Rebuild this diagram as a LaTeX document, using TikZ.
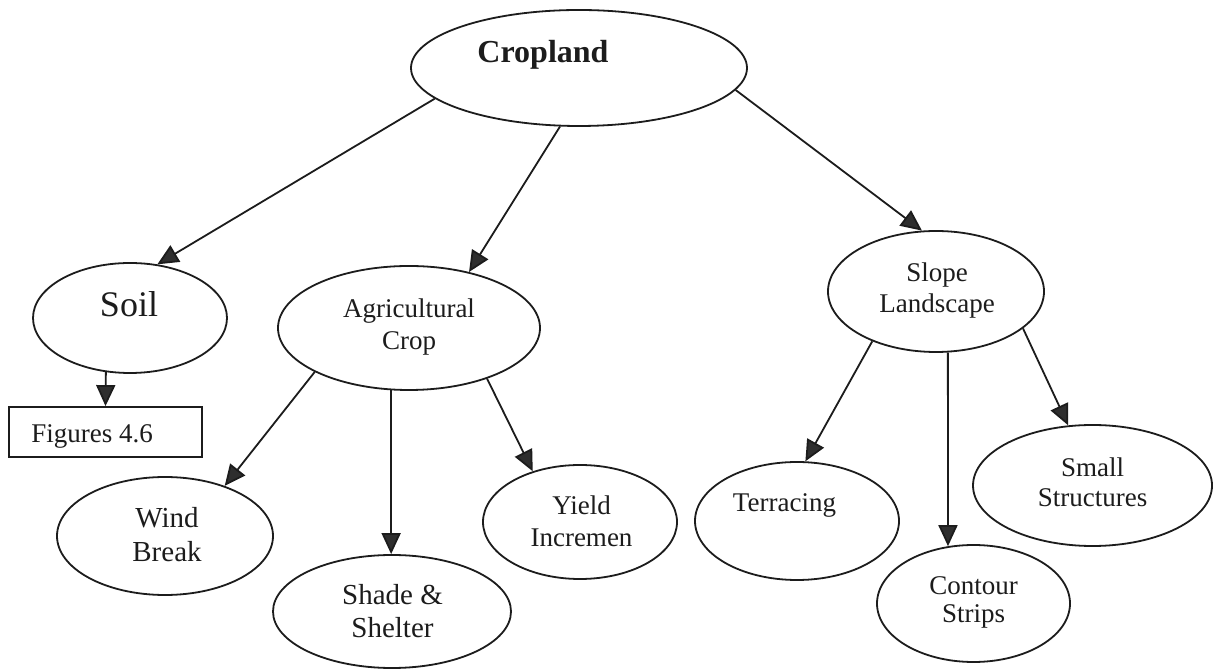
\documentclass[tikz,border=0pt]{standalone}
\usepackage{fontspec}
\setmainfont{Liberation Serif}
\usetikzlibrary{shapes.geometric,arrows.meta}
\definecolor{ink}{HTML}{1C1C1C}
\definecolor{tipfill}{HTML}{2E2E2E}
% two centred lines whose baseline is the first line
\newcommand\twoline[2]{\begin{tabular}[t]{@{}c@{}}#1\\#2\end{tabular}}
\begin{document}
\begin{tikzpicture}[x=0.5pt,y=-0.5pt,
  bubble/.style={draw=ink, line width=0.9pt, ellipse, inner sep=0pt},
  box/.style={draw=ink, line width=0.9pt, rectangle, inner sep=0pt},
  txt/.style={anchor=base, inner sep=0pt, text=ink, font=\fontsize{13.5}{16}\selectfont},
  arr/.style={draw=ink, line width=0.9pt, -{Triangle[length=10.5pt,width=9.5pt,fill=tipfill]}},
]
\fill[white] (0,0) rectangle (1220,672);
\useasboundingbox (0,0) rectangle (1220,672);

% ellipses and the reference box
\node[bubble, minimum width=168pt, minimum height=58pt]   (crop)    at (579,68) {};
\node[bubble, minimum width=97pt,  minimum height=55pt]   (soil)    at (130,318) {};
\node[bubble, minimum width=131pt, minimum height=62pt]   (agri)    at (409,328) {};
\node[bubble, minimum width=108pt, minimum height=60.5pt] (slope)   at (936,291.5) {};
\node[box,    minimum width=96.5pt, minimum height=25pt]  (fig)     at (105.5,432) {};
\node[bubble, minimum width=108pt, minimum height=59pt]   (wind)    at (165,536) {};
\node[bubble, minimum width=119pt, minimum height=56.5pt] (shade)   at (392,611.5) {};
\node[bubble, minimum width=97pt,  minimum height=57pt]   (yield)   at (580,522) {};
\node[bubble, minimum width=102pt, minimum height=59pt]   (terr)    at (797,521) {};
\node[bubble, minimum width=96.5pt, minimum height=58.5pt] (contour) at (973.5,603.5) {};
\node[bubble, minimum width=119.5pt, minimum height=60.5pt] (small) at (1092.5,485.5) {};

% labels
\node[txt, font=\fontsize{16}{19}\bfseries] (cropT) at (543,63) {Cropland};
\node[txt, font=\fontsize{18}{21}\selectfont] (soilT) at (129,317) {Soil};
\node[txt] (agriT) at (409,318) {\twoline{Agricultural}{Crop}};
\node[txt, font=\fontsize{13.5}{15.5}\selectfont] (slopeT) at (937,282) {\twoline{Slope}{Landscape}};
\node[txt, anchor=base west] (figT) at (31,443) {Figures 4.6};
\node[txt, font=\fontsize{14.5}{17}\selectfont] (windT) at (167,528) {\twoline{Wind}{Break}};
\node[txt, font=\fontsize{14.5}{16.5}\selectfont] (shadeT) at (392.5,605) {\twoline{Shade \&}{Shelter}};
\node[txt] (yieldT) at (581.5,515) {\twoline{Yield}{Incremen}};
\node[txt] (terrT) at (784.5,512) {Terracing};
\node[txt, font=\fontsize{13.5}{14}\selectfont] (contourT) at (973.5,595) {\twoline{Contour}{Strips}};
\node[txt, font=\fontsize{13.5}{15}\selectfont] (smallT) at (1092.5,477) {\twoline{Small}{Structures}};

% connectors
\draw[arr] (crop.192) -- (soil.63);
\draw[arr] (crop.252) -- (agri.43);
\draw[arr] (crop.352) -- (slope.103);
\draw[arr] (soil.246) -- (fig.north);
\draw[arr] (agri.205) -- (wind.40);
\draw[arr] (agri.254.5) -- (agri.254.5 |- shade.north);
\draw[arr] (agri.327.4) -- (yield.133);
\draw[arr] (slope.218) -- (terr.82);
\draw[arr] (slope.281.3) -- (contour.114.3);
\draw[arr] (slope.337) -- (small.112.5);
\end{tikzpicture}
\end{document}
